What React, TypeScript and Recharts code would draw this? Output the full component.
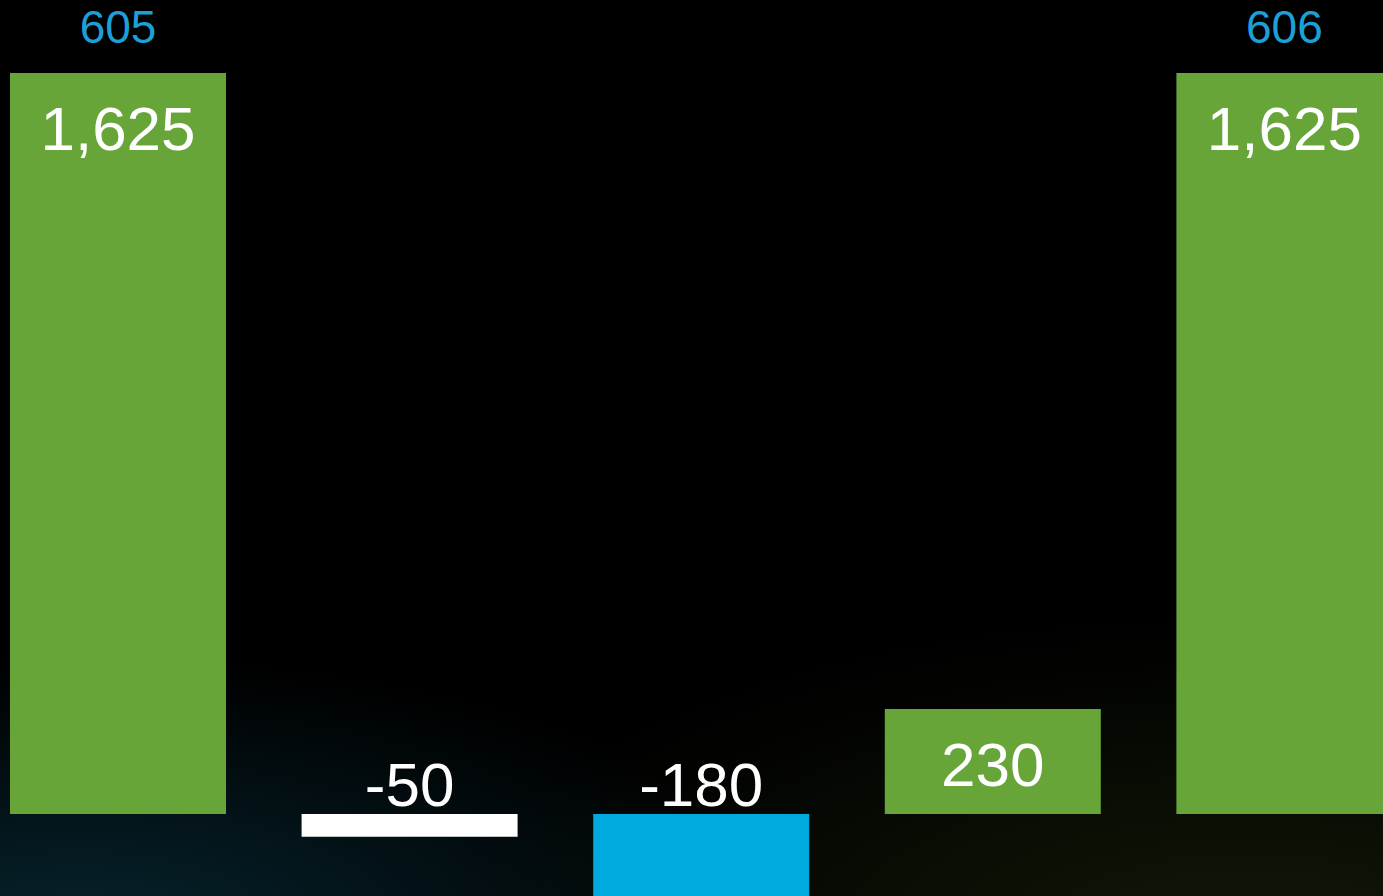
import { BarChart, Bar, Cell, XAxis, YAxis, LabelList } from 'recharts';

const steps = ['Opening', 'Attrition', 'Transfers', 'New hires', 'Closing'];
const amounts = [1625, -50, -180, 230, 1625];
const notes = ['605', '', '', '', '606'];
const fills = ['#67a539', '#ffffff', '#00aadf', '#67a539', '#67a539'];

const data = steps.map((step, i) => ({ step, amount: amounts[i], note: notes[i] }));

const FONT = '"Liberation Sans", Arial, Helvetica, sans-serif';

function AmountLabel(props: any) {
    const { x, y, width, height, value } = props;
    const top = Math.min(y, y + height);
    const cx = x + width / 2;
    // positive bars carry the label inside, negative ones sit it above the zero line
    const baseline = value >= 0 ? top + 77 : top - 8;
    return (
        <text x={cx} y={baseline} textAnchor="middle" fill="#ffffff" fontSize={62} fontFamily={FONT}>
            {Number(value).toLocaleString('en-US')}
        </text>
    );
}

function NoteLabel(props: any) {
    const { x, y, width, height, value } = props;
    if (!value) return null;
    const top = Math.min(y, y + height);
    return (
        <text x={x + width / 2} y={top - 30} textAnchor="middle" fill="#1ba1d8" fontSize={46} fontFamily={FONT}>
            {value}
        </text>
    );
}

export default function App() {
    return (
        <div
            style={{
                position: 'fixed',
                top: 0,
                left: 0,
                width: 1383,
                height: 896,
                overflow: 'hidden',
                background:
                    'radial-gradient(ellipse 700px 260px at 80px 920px, rgba(6,36,46,0.95), rgba(0,0,0,0) 100%),' +
                    'radial-gradient(ellipse 800px 320px at 1250px 940px, rgba(18,26,8,0.95), rgba(0,0,0,0) 100%),' +
                    '#000000',
            }}
        >
            <div style={{ position: 'absolute', left: -28, top: 0 }}>
                <BarChart width={1458} height={896} data={data} margin={{ top: 73, right: 0, bottom: 0, left: 0 }}>
                    <XAxis dataKey="step" hide />
                    <YAxis hide domain={[-180, 1625]} allowDataOverflow />
                    <Bar dataKey="amount" barSize={216} isAnimationActive={false}>
                        {data.map((entry, index) => (
                            <Cell key={`cell-${index}`} fill={fills[index]} />
                        ))}
                        <LabelList dataKey="amount" content={AmountLabel} />
                        <LabelList dataKey="note" content={NoteLabel} />
                    </Bar>
                </BarChart>
            </div>
        </div>
    );
}
